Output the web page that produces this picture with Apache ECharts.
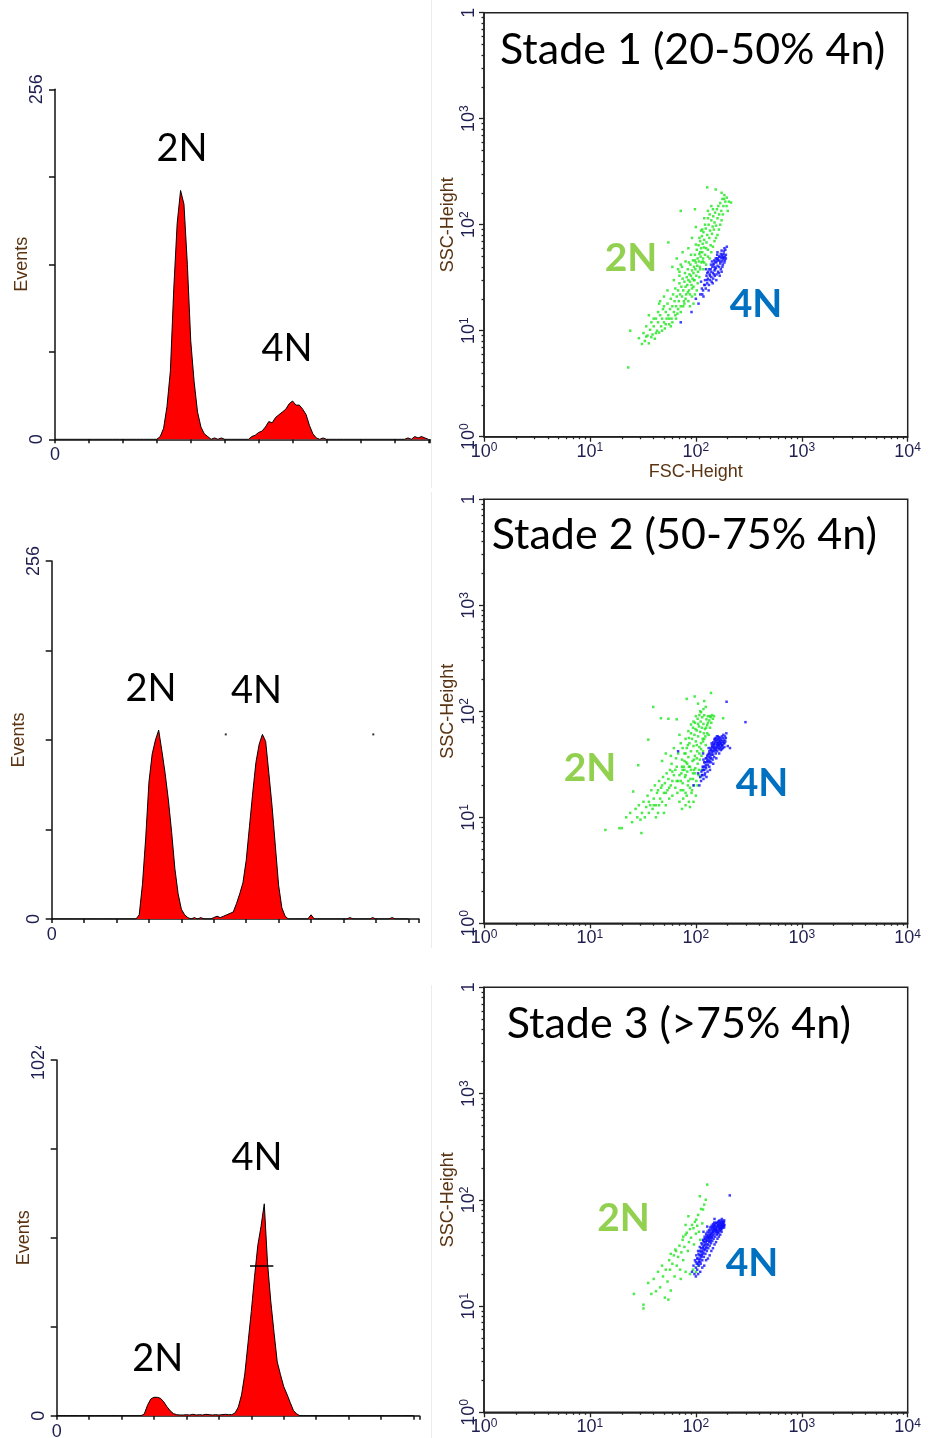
<!DOCTYPE html>
<html><head><meta charset="utf-8">
<script src="https://cdn.jsdelivr.net/npm/echarts@6/dist/echarts.min.js"></script>
<style>
html,body{margin:0;padding:0;background:#fff}
body{width:930px;height:1438px;position:relative;overflow:hidden}
.p{position:absolute;overflow:hidden}
.sep{position:absolute;left:431px;width:1px;background:#ececec}
</style></head><body>
<div class="sep" style="top:0;height:488px"></div>
<div class="sep" style="top:492px;height:456px"></div>
<div class="sep" style="top:985px;height:453px"></div>
<div id="h1" class="p" style="left:0;top:0;width:431px;height:488px"></div>
<div id="h2" class="p" style="left:0;top:490px;width:431px;height:458px"></div>
<div id="h3" class="p" style="left:0;top:1046px;width:431px;height:392px"></div>
<div id="s1" class="p" style="left:432px;top:0;width:498px;height:488px"></div>
<div id="s2" class="p" style="left:432px;top:490px;width:498px;height:455px"></div>
<div id="s3" class="p" style="left:432px;top:980px;width:498px;height:458px"></div>
<script>
// ---------- DATA ----------
// Histograms: counts per channel bin (bin width 10 channels, starting at channel 0)
const binWidth = 10;
const hist1Counts = [
  0,0,0,0,0,0,0,0,0,0,
  0,0,0,0,0,0,0,0,0,0,
  0,0,0,0,0,0,0,0,0,0,
  0,2,8,24,50,110,158,182,172,128,
  72,42,20,9,4,2,0,1,0,1,
  0,0,0,0,0,0,0,0,2,3,
  5,6,9,13,12,16,18,20,22,26,
  28,25,25,22,18,10,4,1,0,1,
  0,0,0,0,0,0,0,0,0,0,
  0,0,0,0,0,0,0,0,0,0,
  0,0,0,0,1,0,2,1,2,1,
  0
];
const hist2Counts = [
  0,0,0,0,0,0,0,0,0,0,
  0,0,0,0,0,0,0,0,0,0,
  0,0,0,0,0,0,0,3,25,58,
  98,118,128,135,120,104,85,62,36,18,
  7,3,1,0,1,0,1,0,0,0,
  1,2,1,2,3,4,5,11,18,26,
  42,66,90,112,125,132,127,104,80,52,
  24,8,2,0,0,0,0,0,0,0,
  3,0,0,0,0,0,0,0,0,0,
  0,0,1,0,0,0,0,0,0,1,
  0,0,0,0,0,1,0,0,0,0,
  0
];
const hist3Counts = [
  0,0,0,0,0,0,0,0,0,0,
  0,0,0,0,0,0,0,0,0,0,
  0,0,0,0,0,0,0,5,30,48,
  53,53,50,40,26,14,6,3,2,2,
  3,2,4,2,3,2,4,3,2,3,
  2,3,4,3,3,8,25,60,120,210,
  300,400,490,545,610,440,330,240,155,118,
  84,62,38,15,5,0,0,0,0,0,
  0,0,0,0,0,0,0,0,0,0,
  0,0,0,0,0,0,0,0,0,0,
  0,0,0,0,0,0,0,0,0,0,
  0
];
const hist2Stray = [[537,132],[992,132]];
const hist3Marker = [[596,431],[668,431]];
const histYMax = [256, 256, 1024];
const histYLabels = [['0','256'],['0','256'],['0','1024']];

// Scatter: [FSC-Height, SSC-Height]
const sc1Green = [[23,4.5],[24,10],[29,8.5],[31,7.5],[32,9.5],[33,8],[34,11],[35,9],[36,7.6],[37,10.2],[38,12],[39,9.2],[40,11],[41,8.4],[42,13],[43,10],[44,12],[45,9.6],[46,14],[47,11],[48,13],[49,16],[50,12],[51,10.5],[52,15],[53,13],[54,18],[55,14],[56,11.5],[57,16],[58,20],[59,13],[60,17],[61,22],[62,15],[63,19],[64,25],[65,17],[66,21],[67,14.5],[68,24],[69,19],[70,28],[71,22],[72,17],[73,26],[74,21],[75,31],[76,24],[77,19],[78,29],[79,35],[80,26],[81,22],[82,32],[83,27],[84,38],[85,30],[86,24],[87,34],[88,29],[89,42],[90,33],[91,27],[92,37],[93,31],[94,46],[95,35],[96,40],[97,30],[98,52],[99,38],[100,44],[101,33],[102,58],[103,41],[104,48],[105,36],[106,64],[107,45],[108,53],[109,40],[110,70],[111,50],[112,60],[113,44],[114,78],[115,55],[116,66],[117,48],[118,85],[119,61],[120,72],[122,52],[124,92],[126,68],[128,80],[130,58],[132,100],[134,75],[136,88],[138,64],[140,110],[142,82],[144,96],[146,120],[148,90],[150,105],[152,130],[155,98],[158,140],[160,115],[163,150],[166,125],[170,160],[174,135],[178,175],[182,150],[186,190],[190,165],[196,180],[205,165],[215,162],[128,225],[154,215],[72,135],[98,140],[55,68],[60,40],[66,48],[75,55],[85,60],[92,75],[100,95],[112,88],[120,115],[130,135],[140,150],[125,42],[135,48],[118,38],[108,32],[95,26],[88,22],[78,18],[65,13],[58,11],[50,17],[45,18],[62,30],[70,36],[80,45],[90,52],
  [46,19],[50,21],[54,24],[85,19],[92,21],[98,22],[102,24],[95,18],[88,17],[70,33],[74,40],[68,38],[120,44],[130,50],[140,55],[145,62],[150,70],[160,80],[165,90],[170,100],[175,110],[180,125],[155,75],[125,60],[110,55],[98,46],[86,44],[72,42],[100,65],[108,75],[115,90],[122,100],[130,115],[135,125],[145,140],[175,200],[185,175],[195,150],[200,135],[56,13],[60,12],[64,14],[68,16],[72,15],[76,17],[80,20],[84,23],[92,25],[96,30],[104,28],[110,38],[116,45],[40,13],[44,15],[36,14],[48,10],[52,11.5],[42,9.5],[38,8.7],[34,8.8]];
const sc1Blue = [[72,12],[91,15],[100,20],[106,18],[110,22],[114,25],[117,24],[120,27],[122,30],[124,25],[126,33],[128,28],[130,31],[131,36],[133,27],[135,34],[136,30],[138,38],[140,32],[141,29],[143,40],[145,35],[146,31],[148,43],[150,37],[151,33],[153,45],[155,39],[157,34],[158,48],[160,41],[162,36],[164,46],[166,40],[168,50],[170,43],[172,38],[174,48],[176,45],[178,52],[180,42],[182,47],[184,56],[186,44],[188,50],[190,58],[192,48],[132,24],[144,28],[156,30],[168,33],[175,36],[139,42],[149,46],[159,52],[165,35],[178,40],[185,49],[125,38],[118,21],[196,62],[112,29],
  [128,35],[134,38],[142,45],[150,40],[156,44],[162,48],[170,45],[176,50],[183,53],[188,46],[192,52],[140,36],[146,42],[152,38],[160,46],[166,50],[172,53],[180,49],[154,48],[148,34],[136,33],[128,30],[122,27],[115,22],[160,55],[175,57],[186,60]];

const sc2Green = [[14,7.6],[19,7.9],[20,7.9],[30.6,7.1],[25.6,17.5],[28.6,31],[35.6,54],[39.6,110],[46.8,86],[55,85],[66,84],[82,131],[97.5,138],[139,149],[181,86],[120,125],[105,118],[22,10],[24,11],[25,9],[27,12],[28,10],[29,13],[30,9.5],[31,11],[32,14],[33,10],[34,12.5],[35,16],[36,11],[37,13],[38,18],[39,12],[40,15],[41,20],[42,13],[43,17],[44,11],[45,22],[46,15],[47,19],[48,14],[49,24],[50,17],[51,21],[52,13],[53,26],[54,18],[55,23],[56,15],[57,28],[58,20],[59,32],[60,16],[62,25],[64,19],[66,30],[68,22],[70,14],[72,18],[73,26],[74,35],[75,21],[76,15],[77,30],[78,40],[79,24],[80,17],[81,33],[82,45],[83,27],[84,20],[85,37],[86,14],[87,50],[88,30],[89,23],[90,42],[91,17],[92,55],[93,34],[94,26],[95,47],[96,20],[97,60],[98,38],[99,29],[100,52],[101,22],[102,66],[103,42],[104,32],[105,58],[106,25],[107,72],[108,46],[109,35],[110,64],[111,80],[112,50],[113,38],[114,70],[115,88],[116,55],[117,42],[118,76],[119,62],[120,92],[122,68],[124,48],[126,84],[128,74],[130,90],[132,60],[134,82],[136,70],[138,88],[140,78],[142,92],[145,85],[148,90],[75,45],[72,50],[68,40],[65,36],[62,45],[70,60],[80,55],[85,65],[90,75],[95,80],[100,90],[110,100],[80,13],[88,12.5],[95,14],[92,18],[100,16],[85,22],[78,28],[83,32],[96,28],[102,36],[107,28],[112,44],[117,52],[123,58],[128,62],[105,76],[99,68],[60,27],[67,17],[74,12],[58,38],[48,34],[52,40],
  [72,22],[75,28],[78,34],[80,40],[84,48],[86,56],[90,62],[94,70],[98,78],[104,85],[108,92],[112,98],[118,105],[124,110],[76,18],[82,16],[88,19],[94,23],[98,26],[104,20],[110,24],[114,28],[108,40],[120,55],[125,70],[130,78],[136,90],[102,48],[96,35],[90,28],[86,30],[80,25],[74,30],[70,25],[66,22],[64,28],[60,22],[56,19],[52,17],[48,20],[44,18],[40,13],[36,14],[45,13],[50,11],[42,10]];
const sc2Blue = [[68,42],[95,20],[195,123],[294,79],[108,20],[110,24],[112,22],[113,27],[115,25],[116,30],[118,23],[119,28],[120,33],[122,26],[123,30],[124,36],[125,29],[127,33],[128,38],[129,27],[130,31],[131,35],[133,40],[134,30],[135,34],[137,38],[138,43],[139,33],[140,36],[142,41],[143,46],[144,35],[145,39],[147,44],[148,48],[149,37],[150,42],[152,46],[153,50],[154,40],[155,44],[157,48],[158,52],[159,42],[160,46],[162,50],[164,54],[165,44],[166,48],[168,52],[170,56],[171,46],[172,50],[174,54],[176,58],[177,48],[178,52],[180,56],[182,60],[184,50],[186,54],[188,58],[190,52],[192,56],[200,47],[210,45],[105,26],[118,35],[126,24],[136,28],[146,32],[156,36],[166,40],[176,44],[186,46],[132,45],[141,50],[151,55],[161,58],[117,40],[194,62],
  [118,30],[122,33],[126,36],[130,39],[134,42],[138,45],[142,48],[146,51],[150,54],[154,56],[158,58],[162,55],[166,57],[170,53],[174,50],[178,48],[182,52],[186,50],[120,28],[124,31],[128,34],[132,37],[136,40],[140,43],[144,46],[148,49],[152,52],[156,54],[160,50],[164,47],[168,45],[172,43],[176,47],[180,45],[114,25],[116,28],[121,25],[133,33],[137,36],[141,39],[145,42],[149,45],[153,43],[157,45],[161,48],[165,51],[169,49]];

const sc3Green = [[26,13],[32,10.3],[32,9.5],[35.5,16.5],[38,13],[40,18],[42,13.8],[44,21],[46,15],[48,24],[49,19],[51,12],[52,22],[54,17],[55,11.5],[56,27],[57,22],[58,14],[60,25],[62,30],[63,19],[65,33],[66,24],[68,29],[70,37],[71,22],[73,32],[75,42],[76,27],[78,36],[80,47],[82,49],[84,33],[86,40],[88,53],[90,44],[92,58],[95,54],[96,38],[98,62],[100,48],[101,65],[103,57],[105,72],[107,50],[109,108],[112,82],[115,60],[117,81],[120,90],[124,100],[128,139],[88,20],[94,22],[100,21],[105,24],[80,21],[72,18],[64,34],[58,31],[85,70],[80,58],[76,45],[110,42]];
const sc3Blue = [[209,110],[92,21],[95,24],[97,20],[98,27],[100,23],[101,30],[102,25],[103,22],[104,28],[105,33],[106,26],[107,24],[108,30],[109,36],[110,28],[111,25],[112,32],[113,39],[114,30],[115,27],[116,35],[117,42],[118,32],[119,29],[120,37],[121,45],[122,34],[123,31],[124,40],[125,48],[126,36],[127,33],[128,42],[129,50],[130,38],[131,35],[132,44],[133,52],[134,40],[135,37],[136,46],[137,55],[138,42],[139,39],[140,48],[141,57],[142,44],[143,41],[144,50],[145,59],[146,46],[147,43],[148,52],[149,61],[150,48],[152,45],[153,54],[155,50],[157,56],[158,47],[160,52],[162,58],[163,49],[165,54],[167,60],[168,51],[170,56],[172,62],[174,53],[176,58],[178,55],[180,60],[182,57],[184,62],[186,58],[176,66],[168,64],[120,24],[130,28],[140,33],[150,38],[160,43],[170,47],[110,21],[100,19],[135,30],[145,35],[155,40],[165,45],[175,50],[185,55],[125,27],[115,23],[105,20],[118,50],[128,56],[150,66],
  [105,25],[108,27],[111,30],[114,33],[117,36],[120,40],[123,43],[126,46],[129,45],[132,48],[135,50],[138,52],[141,54],[144,55],[147,57],[150,58],[153,60],[156,61],[159,60],[162,62],[165,63],[168,60],[171,58],[174,60],[177,63],[180,62],[110,26],[113,29],[116,31],[119,34],[122,38],[125,41],[128,44],[131,46],[134,44],[137,47],[140,44],[143,47],[146,50],[149,53],[152,51],[155,53],[158,55],[161,57],[164,58],[167,56],[170,54],[173,56],[176,54],[179,57],[182,59],[185,64],[100,26],[103,28],[106,31],[109,33],[112,35],[115,38],[118,41],[121,43],[124,35],[127,38],[130,41],[133,43],[136,41],[139,45],[142,49],[145,52],[148,55],[151,57],[154,52],[157,50],[160,48],[163,50],[166,53],[169,55],[172,52],[175,55],[178,59],[181,55],[184,58]];

const decadeValues = [1, 10, 100, 1000, 10000];
const decadeExponents = ['0', '1', '2', '3', '4'];
const stageTitles = ['Stade 1 (20-50% 4n)', 'Stade 2 (50-75% 4n)', 'Stade 3 (>75% 4n)'];

// ---------- STYLE ----------
const LABEL = '#1e1e50';
const TITLE = '#5a3412';
const TICKFONT = 'Liberation Sans, Arial, sans-serif';
const TEXTFONT = 'Lato, "Open Sans", sans-serif';

function histOption(counts, idx, grid, xmax, texts, extraSeries) {
  const ymax = histYMax[idx];
  const labs = histYLabels[idx];
  const data = counts.map((c, i) => [i * binWidth, c]);
  const series = [{
    type: 'line', data: data, symbol: 'none', silent: true,
    lineStyle: { color: '#000', width: 1 },
    areaStyle: { color: '#ff0000', opacity: 1 }
  }].concat(extraSeries || []);
  return {
    animation: false,
    grid: Object.assign({ containLabel: false, outerBoundsMode: 'none' }, grid),
    xAxis: {
      type: 'value', min: 0, max: xmax, interval: 100,
      axisLine: { onZero: false, lineStyle: { color: '#111', width: 1.5 } },
      axisTick: { show: true, length: 4, lineStyle: { color: '#111', width: 1.5 } },
      axisLabel: { formatter: v => (v === 0 ? '0' : ''), color: LABEL, fontSize: 18, fontFamily: TICKFONT, margin: 7 },
      splitLine: { show: false }
    },
    yAxis: {
      type: 'value', min: 0, max: ymax, interval: ymax / 4,
      name: 'Events', nameLocation: 'middle', nameGap: 24, nameMoveOverlap: false,
      nameTextStyle: { color: TITLE, fontSize: 18, fontFamily: TICKFONT },
      axisLine: { show: true, lineStyle: { color: '#111', width: 1.5 } },
      axisTick: { show: true, length: 6, lineStyle: { color: '#111', width: 1.5 } },
      axisLabel: { rotate: 90, formatter: v => (v === 0 ? labs[0] : (v === ymax ? labs[1] : '')), color: LABEL, fontSize: 18, fontFamily: TICKFONT, margin: 9 },
      splitLine: { show: false }
    },
    graphic: texts.map(t => ({
      type: 'text', x: t[1], y: t[2],
      style: { text: t[0], fill: '#000', font: '38px ' + TEXTFONT, textAlign: 'center', textVerticalAlign: 'middle' }
    })),
    series: series
  };
}

const rich = {
  b: { fontSize: 18, lineHeight: 20, fontFamily: TICKFONT, color: LABEL },
  s: { fontSize: 12, lineHeight: 9, verticalAlign: 'top', fontFamily: TICKFONT, color: LABEL }
};
function decadeLabel(v, isY) {
  const i = decadeValues.findIndex(d => Math.abs(d - v) < 1e-6 * d);
  if (i < 0) return '';
  if (isY && i === decadeValues.length - 1) return '{b|1}';
  return '{b|10}{s|' + decadeExponents[i] + '}';
}

function scatterOption(green, blue, grid, showXName, title, titlePos, lab2, lab4) {
  const axisCommon = {
    type: 'log', logBase: 10, min: 1, max: 10000,
    axisLine: { lineStyle: { color: '#222', width: 1.5 } },
    axisTick: { show: true, length: 5, lineStyle: { color: '#222', width: 1.3 } },
    minorTick: { show: true, splitNumber: 9, length: 2.5, lineStyle: { color: '#222', width: 1.3 } },
    splitLine: { show: false }, minorSplitLine: { show: false }
  };
  return {
    animation: false,
    grid: Object.assign({ show: true, borderColor: '#222', borderWidth: 1.5, backgroundColor: 'transparent', containLabel: false, outerBoundsMode: 'none' }, grid),
    xAxis: Object.assign({}, axisCommon, {
      name: showXName ? 'FSC-Height' : '', nameLocation: 'middle', nameGap: 26, nameMoveOverlap: false,
      nameTextStyle: { color: TITLE, fontSize: 18, fontFamily: TICKFONT },
      axisLabel: { formatter: v => decadeLabel(v, false), rich: rich, margin: 5 }
    }),
    yAxis: Object.assign({}, axisCommon, {
      name: 'SSC-Height', nameLocation: 'middle', nameGap: 27, nameMoveOverlap: false,
      nameTextStyle: { color: TITLE, fontSize: 18, fontFamily: TICKFONT },
      axisLabel: { rotate: 90, formatter: v => decadeLabel(v, true), rich: rich, margin: 5 }
    }),
    graphic: [
      { type: 'text', x: titlePos[0], y: titlePos[1], style: { text: title, fill: '#000', font: '43px ' + TEXTFONT, textAlign: 'left', textVerticalAlign: 'middle' } },
      { type: 'text', x: lab2[0], y: lab2[1], style: { text: '2N', fill: '#92d050', font: 'bold 39px ' + TEXTFONT, textAlign: 'center', textVerticalAlign: 'middle' } },
      { type: 'text', x: lab4[0], y: lab4[1], style: { text: '4N', fill: '#0070c0', font: 'bold 39px ' + TEXTFONT, textAlign: 'center', textVerticalAlign: 'middle' } }
    ],
    series: [
      { type: 'scatter', data: green, symbol: 'rect', symbolSize: 2.5, silent: true, itemStyle: { color: '#1ee61e' } },
      { type: 'scatter', data: blue, symbol: 'rect', symbolSize: 2.5, silent: true, itemStyle: { color: '#1010ff' } }
    ]
  };
}

function mk(id, opt) {
  const c = echarts.init(document.getElementById(id), null, { renderer: 'canvas' });
  c.setOption(opt);
}

mk('h1', histOption(hist1Counts, 0, { left: 55, top: 89.3, width: 375, height: 350 }, 1105,
  [['2N', 182, 149], ['4N', 287, 349]]));
mk('h2', histOption(hist2Counts, 1, { left: 51.7, top: 71, width: 367.3, height: 358 }, 1133,
  [['2N', 151, 199], ['4N', 256.5, 201]],
  [{ type: 'scatter', data: hist2Stray, symbol: 'rect', symbolSize: 2, silent: true, itemStyle: { color: '#000' } }]));
mk('h3', histOption(hist3Counts, 2, { left: 56.7, top: 14, width: 362.6, height: 355.7 }, 1118,
  [['2N', 157.7, 312.5], ['4N', 257, 112]],
  [{ type: 'line', data: hist3Marker, symbol: 'none', silent: true, lineStyle: { color: '#000', width: 1.3 } }]));

mk('s1', scatterOption(sc1Green, sc1Blue, { left: 52, top: 12.7, width: 423.7, height: 424 }, true,
  stageTitles[0], [68, 50], [199, 258], [324, 304]));
mk('s2', scatterOption(sc2Green, sc2Blue, { left: 52, top: 9.3, width: 423.7, height: 424 }, false,
  stageTitles[1], [59.7, 45], [158, 278], [330, 293]));
mk('s3', scatterOption(sc3Green, sc3Blue, { left: 52, top: 7.3, width: 423.7, height: 425 }, false,
  stageTitles[2], [74.7, 44.6], [191.5, 238], [320, 283]));
</script>
</body></html>
